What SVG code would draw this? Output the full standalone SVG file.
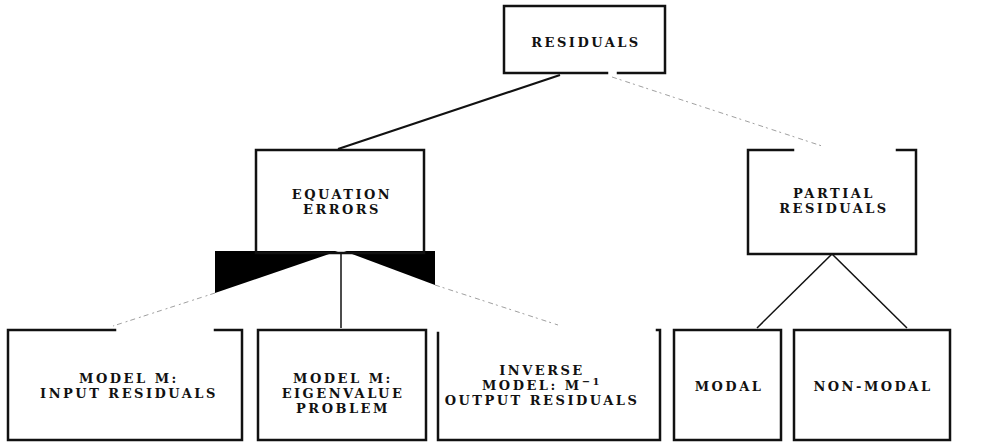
<svg xmlns="http://www.w3.org/2000/svg" width="1000" height="442" viewBox="0 0 1000 442">
  <style>
    .box { fill: none; stroke: #111; stroke-width: 2.5; stroke-linecap: square; }
    .edge { fill: none; stroke: #111; stroke-width: 2; }
    .thin { fill: none; stroke: #111; stroke-width: 1.5; }
    .faint { fill: none; stroke: #a0a0a0; stroke-width: 1; stroke-dasharray: 5 3 2 4; }
    .wedge { fill: #000; stroke: none; }
    text { font-family: "DejaVu Serif", "Liberation Serif", serif; font-weight: bold; font-size: 13px; letter-spacing: 2.5px; fill: #111; text-anchor: middle; }
  </style>
  <rect width="1000" height="442" fill="#fff"/>

  <!-- connectors -->
  <g id="connectors">
    <line class="edge" x1="560" y1="75" x2="338" y2="149"/>
    <line class="faint" x1="612" y1="77" x2="822" y2="146"/>
    <polygon class="wedge" points="215,251 338,251 215,293"/>
    <polygon class="wedge" points="344,251 435,251 435,285"/>
    <line class="thin" x1="341" y1="253" x2="341" y2="328"/>
    <line class="faint" x1="215" y1="293" x2="113" y2="326"/>
    <line class="faint" x1="435" y1="285" x2="558" y2="325"/>
    <line class="thin" x1="832" y1="254" x2="757" y2="328"/>
    <line class="thin" x1="832" y1="254" x2="907" y2="328"/>
  </g>

  <!-- root -->
  <g id="residuals">
    <path class="box" d="M607,73 H504 V6 H665 V73 H618"/>
    <text x="586" y="47">RESIDUALS</text>
  </g>

  <g id="equation-errors">
    <rect class="box" x="256" y="150" width="168" height="103"/>
    <text x="342" y="199">EQUATION</text>
    <text x="342" y="214">ERRORS</text>
  </g>

  <g id="partial-residuals">
    <path class="box" d="M793,150 H748 V254 H916 V150 H897"/>
    <text x="834" y="198">PARTIAL</text>
    <text x="834" y="213">RESIDUALS</text>
  </g>

  <!-- leaves -->
  <g id="input-residuals">
    <path class="box" d="M115,330 H8 V440 H242 V330 H215"/>
    <text x="129" y="383">MODEL M:</text>
    <text x="129" y="398">INPUT RESIDUALS</text>
  </g>

  <g id="eigenvalue-problem">
    <rect class="box" x="258" y="330" width="168" height="110"/>
    <text x="343" y="383">MODEL M:</text>
    <text x="343" y="398">EIGENVALUE</text>
    <text x="343" y="413">PROBLEM</text>
  </g>

  <g id="output-residuals">
    <path class="box" d="M438,333 V440 H660 V330 H657"/>
    <text x="542" y="375">INVERSE</text>
    <text x="542" y="390">MODEL: M<tspan font-size="10" dy="-5">−1</tspan></text>
    <text x="542" y="405">OUTPUT RESIDUALS</text>
  </g>

  <g id="modal">
    <rect class="box" x="674" y="330" width="107" height="110"/>
    <text x="729" y="391">MODAL</text>
  </g>

  <g id="non-modal">
    <rect class="box" x="794" y="330" width="156" height="110"/>
    <text x="873" y="391">NON-MODAL</text>
  </g>
</svg>
